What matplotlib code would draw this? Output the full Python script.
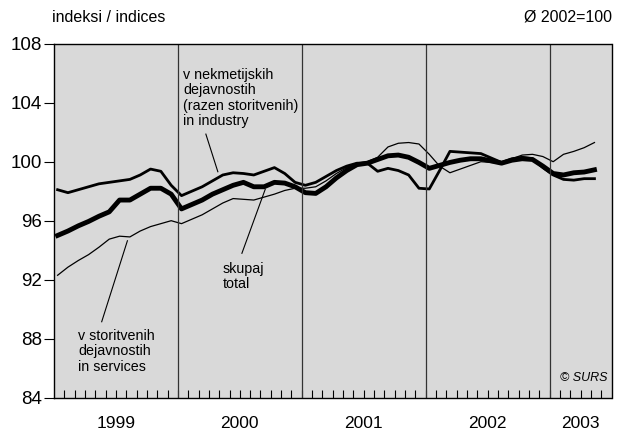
import matplotlib
matplotlib.use("Agg")
import matplotlib.pyplot as plt
import numpy as np

plt.rcParams['font.family'] = ['Liberation Sans', 'DejaVu Sans']

years = ["1999", "2000", "2001", "2002", "2003"]
months_per_year = [12, 12, 12, 12, 6]

total = [95.0, 95.3, 95.65, 95.95, 96.3, 96.6, 97.4, 97.4, 97.8, 98.2, 98.2, 97.8,
         96.8, 97.1, 97.4, 97.8, 98.1, 98.4, 98.6, 98.3, 98.3, 98.6, 98.55, 98.3,
         97.9, 97.85, 98.3, 98.9, 99.4, 99.8, 99.9, 100.15, 100.4, 100.45, 100.3, 99.95,
         99.55, 99.75, 99.95, 100.1, 100.2, 100.2, 100.05, 99.9, 100.1, 100.2, 100.15, 99.7,
         99.2, 99.1, 99.25, 99.3, 99.45]
industry = [98.1, 97.9, 98.1, 98.3, 98.5, 98.6, 98.7, 98.8, 99.1, 99.5, 99.35, 98.4,
            97.7, 98.0, 98.3, 98.7, 99.1, 99.25, 99.2, 99.1, 99.35, 99.6, 99.2, 98.6,
            98.4, 98.6, 99.0, 99.4, 99.7, 99.9, 99.9, 99.35, 99.55, 99.4, 99.1, 98.2,
            98.15, 99.4, 100.7, 100.65, 100.6, 100.55, 100.25, 99.95, 100.2, 100.3, 100.2, 99.6,
            99.1, 98.8, 98.75, 98.85, 98.85]
services = [92.3, 92.85, 93.3, 93.7, 94.2, 94.75, 94.95, 94.9, 95.3, 95.6, 95.8, 96.0,
            95.8, 96.1, 96.4, 96.8, 97.2, 97.5, 97.45, 97.4, 97.6, 97.8, 98.05, 98.2,
            98.2, 98.3, 98.7, 99.2, 99.6, 99.9, 100.0, 100.3, 101.0, 101.25, 101.3, 101.2,
            100.5, 99.7, 99.25, 99.5, 99.75, 100.0, 99.95, 99.9, 100.2, 100.45, 100.5, 100.35,
            100.0, 100.5, 100.7, 100.95, 101.3]
yticks = [84, 88, 92, 96, 100, 104, 108]

fig = plt.figure(figsize=(6.21, 4.32), dpi=100)
ax = fig.add_axes([54/621, 1-397.7/432, (611.5-54)/621, (397.7-43.7)/432])
ax.set_facecolor('#d9d9d9')

n_months = sum(months_per_year)
x = np.arange(len(total)) + 0.35

ax.plot(x, services, color='black', lw=0.9, solid_joinstyle='round')
ax.plot(x, industry, color='black', lw=2.0, solid_joinstyle='round')
ax.plot(x, total, color='black', lw=3.5, solid_joinstyle='round')

ax.set_xlim(0, n_months)
ax.set_ylim(84, 108)

# year separators
bounds = np.cumsum(months_per_year)
for b in bounds[:-1]:
    ax.axvline(b, color='#333333', lw=0.9)

# month ticks (inside, bottom)
ax.set_xticks(np.arange(1, n_months))
ax.tick_params(axis='x', which='major', direction='in', length=6, width=0.8, labelbottom=False, top=False)
starts = np.concatenate([[0], bounds[:-1]])
for s, m, yl in zip(starts, months_per_year, years):
    ax.text(s + m/2, -0.052, yl, transform=ax.get_xaxis_transform(), ha='center', va='top', fontsize=12.5)

ax.set_yticks(yticks)
ax.set_yticklabels([str(v) for v in yticks], fontsize=13.5)
ax.tick_params(axis='y', direction='out', length=7, width=0.8, pad=1.5)
for sp in ax.spines.values():
    sp.set_linewidth(1.0)

fig.text(52/621, 1-17/432, "indeksi / indices", ha='left', va='center', fontsize=11.5)
fig.text(612/621, 1-17/432, "Ø 2002=100", ha='right', va='center', fontsize=11.5)

ax.text(12.5, 106.35, "v nekmetijskih\ndejavnostih\n(razen storitvenih)\nin industry",
        ha='left', va='top', fontsize=10.3, linespacing=1.12)
ax.plot([14.71, 15.87], [101.87, 99.32], color='black', lw=0.8)

ax.text(16.35, 93.2, "skupaj\ntotal", ha='left', va='top', fontsize=10.3, linespacing=1.12)
ax.plot([18.2, 20.46], [93.79, 98.13], color='black', lw=0.8)

ax.text(2.36, 88.65, "v storitvenih\ndejavnostih\nin services", ha='left', va='top', fontsize=10.3, linespacing=1.12)
ax.plot([4.62, 7.11], [89.15, 94.64], color='black', lw=0.8)

ax.text(53.6, 85.35, "© SURS", ha='right', va='center', fontsize=9, style='italic')

fig.savefig("out.png", dpi=100)
